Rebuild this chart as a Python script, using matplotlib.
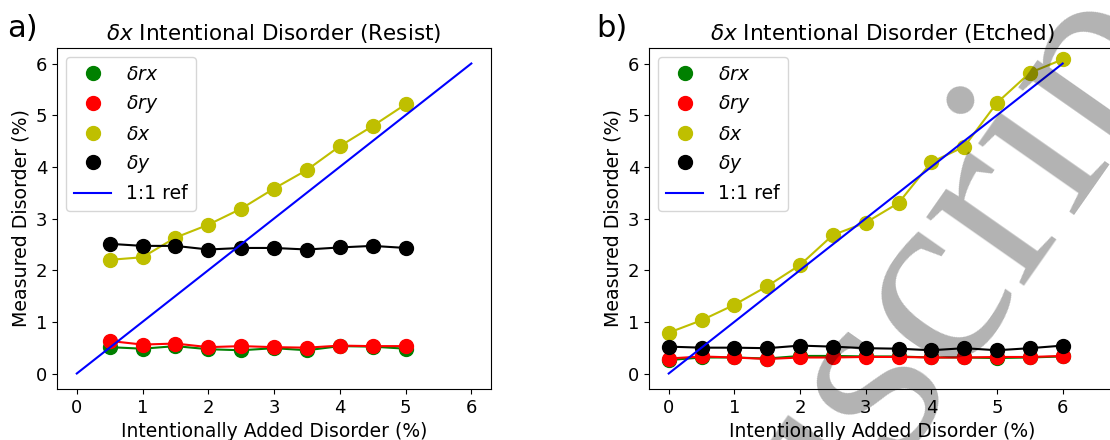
import numpy as np
import matplotlib
matplotlib.use('Agg')
import matplotlib.pyplot as plt

# valeurs
x_resist = [0.5, 1.0, 1.5, 2.0, 2.5, 3.0, 3.5, 4.0, 4.5, 5.0]
rx_resist = [0.51, 0.48, 0.53, 0.47, 0.45, 0.49, 0.45, 0.53, 0.52, 0.48]
ry_resist = [0.63, 0.56, 0.58, 0.51, 0.53, 0.51, 0.50, 0.54, 0.53, 0.53]
dx_resist = [2.20, 2.25, 2.63, 2.88, 3.19, 3.58, 3.94, 4.40, 4.79, 5.21]
dy_resist = [2.51, 2.47, 2.47, 2.40, 2.43, 2.43, 2.40, 2.44, 2.47, 2.43]

x_etched = [0.0, 0.5, 1.0, 1.5, 2.0, 2.5, 3.0, 3.5, 4.0, 4.5, 5.0, 5.5, 6.0]
rx_etched = [0.26, 0.31, 0.31, 0.29, 0.34, 0.34, 0.33, 0.33, 0.31, 0.31, 0.30, 0.31, 0.33]
ry_etched = [0.29, 0.33, 0.31, 0.28, 0.31, 0.31, 0.32, 0.32, 0.31, 0.31, 0.32, 0.32, 0.34]
dx_etched = [0.79, 1.03, 1.33, 1.69, 2.10, 2.68, 2.92, 3.30, 4.09, 4.39, 5.24, 5.82, 6.08]
dy_etched = [0.52, 0.50, 0.50, 0.49, 0.54, 0.52, 0.49, 0.48, 0.45, 0.49, 0.45, 0.49, 0.54]

ref_x = [0, 6]
labels = [r'$\delta rx$', r'$\delta ry$', r'$\delta x$', r'$\delta y$']
colors = ['g', 'r', 'y', 'k']


def draw_panel(ax, xs, series, title):
    for ys, c, lab in zip(series, colors, labels):
        ax.plot(xs, ys, '-', color=c, lw=1.5)
        ax.plot(xs, ys, 'o', color=c, ms=10, label=lab)
    ax.plot(ref_x, ref_x, color='b', lw=1.5, label='1:1 ref')
    ax.set_title(title, fontsize=15.5)
    ax.set_xlabel('Intentionally Added Disorder (%)', fontsize=13.5)
    ax.set_ylabel('Measured Disorder (%)', fontsize=13.7)
    ax.set_xticks(range(0, 7))
    ax.set_yticks(range(0, 7))
    ax.tick_params(labelsize=13)
    ax.set_ylim(-0.3, 6.3)
    ax.legend(loc='upper left', fontsize=13.5)


fig = plt.figure(figsize=(11.1, 4.4), dpi=100)

ax1 = fig.add_axes([0.0514, 0.1159, 0.391, 0.775])
draw_panel(ax1, x_resist, [rx_resist, ry_resist, dx_resist, dy_resist],
           r'$\delta x$ Intentional Disorder (Resist)')
ax1.set_xlim(-0.3, 6.3)

ax2 = fig.add_axes([0.5847, 0.1159, 0.42, 0.775])
draw_panel(ax2, x_etched, [rx_etched, ry_etched, dx_etched, dy_etched],
           r'$\delta x$ Intentional Disorder (Etched)')
ax2.set_xlim(-0.3, 6.8)

fig.text(0.006, 0.916, 'a)', fontsize=22)
fig.text(0.537, 0.916, 'b)', fontsize=22)

# filigrane
fig.text(0.493, -1.175, 'Manuscript', family='Liberation Serif', fontsize=187,
         color='k', alpha=0.3, rotation=55, rotation_mode='anchor',
         ha='left', va='baseline', zorder=10)

fig.savefig('out.png', dpi=100)
